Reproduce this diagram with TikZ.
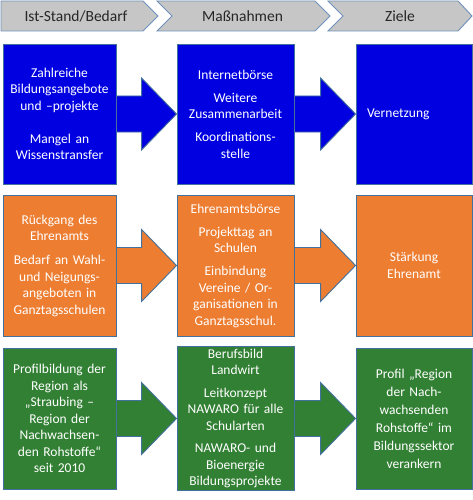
\documentclass[tikz,border=0pt]{standalone}
\usepackage{fontspec}
\setmainfont{Carlito}
\usetikzlibrary{calc}
\definecolor{hdrfill}{RGB}{198,198,198}
\definecolor{hdrline}{RGB}{110,145,185}
\definecolor{boxline}{RGB}{65,113,156}
\definecolor{cblue}{RGB}{0,0,225}
\definecolor{corange}{RGB}{237,125,49}
\definecolor{cgreen}{RGB}{50,128,52}
\pgfdeclarelayer{background}
\pgfsetlayers{background,main}
\newcommand\flowarrow[3]{\draw[#1] let \p1=(#2.east), \p2=(#3.west) in
  (\x1-2pt,\y1+18pt) -- (\x2-35pt,\y1+18pt) -- (\x2-35pt,\y1+36pt) -- (\x2,\y1)
  -- (\x2-35pt,\y1-36pt) -- (\x2-35pt,\y1-18pt) -- (\x1-2pt,\y1-18pt) -- cycle;}
\tikzset{
  hdr/.style={draw=hdrline, fill=hdrfill, line width=0.9pt, line join=miter},
  hdrtext/.style={font=\fontsize{15.5}{18}\selectfont, text=black!85},
  box/.style={draw=boxline, line width=0.9pt, text=white, minimum height=141pt,
    inner sep=2pt, align=center, font=\fontsize{13.5}{16.5}\selectfont},
  arr/.style={draw=boxline, line width=0.9pt, line join=miter},
}
\begin{document}
\begin{tikzpicture}[x=1pt,y=-1pt]
\useasboundingbox (0,0) rectangle (473,500);
% header chevrons
\draw[hdr] (1,1) -- (143,1) -- (158,16) -- (143,31) -- (1,31) -- cycle;
\draw[hdr] (157,1) -- (315,1) -- (330,16) -- (315,31) -- (157,31) -- (172,16) -- cycle;
\draw[hdr] (328,1) -- (458,1) -- (472,16) -- (458,31) -- (328,31) -- (343,16) -- cycle;
\node[hdrtext] (h1) at (76,16) {Ist-Stand/Bedarf};
\node[hdrtext] (h2) at (242.5,16) {Maßnahmen};
\node[hdrtext] (h3) at (400,16) {Ziele};
% blue row
\node[box, fill=cblue, minimum width=113pt, minimum height=140pt, text width=109pt] (b1) at (59.5,114)
  {Zahlreiche\\Bildungsangebote\\und –projekte\\[16.5pt]Mangel an\\Wissenstransfer};
\node[box, fill=cblue, minimum width=117pt, minimum height=140pt, text width=113pt] (b2) at (235.5,114)
  {Internetbörse\\[6.5pt]Weitere\\Zusammenarbeit\\[6.5pt]Koordinations-\\stelle};
\node[box, fill=cblue, minimum width=116pt, minimum height=140pt, inner xsep=11pt, text width=94pt, align=left] (b3) at (414,114)
  {Vernetzung};
% orange row
\node[box, fill=corange, minimum width=113pt, text width=109pt] (o1) at (59.5,265.5)
  {Rückgang des\\Ehrenamts\\[7.5pt]Bedarf an Wahl-\\und Neigungs-\\angeboten in\\Ganztagsschulen};
\node[box, fill=corange, minimum width=117pt, text width=113pt] (o2) at (235.5,265.5)
  {Ehrenamtsbörse\\[6.5pt]Projekttag an\\Schulen\\[6.5pt]Einbindung\\Vereine / Or-\\ganisationen in\\Ganztagsschul.};
\node[box, fill=corange, minimum width=116pt, text width=112pt] (o3) at (414,265.5)
  {Stärkung\\Ehrenamt};
% green row
\node[box, fill=cgreen, minimum width=113pt, text width=109pt] (g1) at (59.5,418.5)
  {Profilbildung der\\Region als\\„Straubing –\\Region der\\Nachwachsen-\\den Rohstoffe“\\seit 2010};
\node[box, fill=cgreen, minimum width=117pt, text width=113pt] (g2) at (235.5,418.5)
  {Berufsbild\\Landwirt\\[6pt]Leitkonzept\\NAWARO für alle\\Schularten\\[6pt]NAWARO- und\\Bioenergie\\Bildungsprojekte};
\node[box, fill=cgreen, minimum width=116pt, text width=112pt, font=\fontsize{13.5}{18}\selectfont] (g3) at (414,418.5)
  {Profil „Region\\der Nach-\\wachsenden\\Rohstoffe“ im\\Bildungssektor\\verankern};
% arrows
\begin{pgfonlayer}{background}
\flowarrow{arr, fill=cblue}{b1}{b2}
\flowarrow{arr, fill=cblue}{b2}{b3}
\flowarrow{arr, fill=corange}{o1}{o2}
\flowarrow{arr, fill=corange}{o2}{o3}
\flowarrow{arr, fill=cgreen}{g1}{g2}
\flowarrow{arr, fill=cgreen}{g2}{g3}
\end{pgfonlayer}
\end{tikzpicture}
\end{document}
